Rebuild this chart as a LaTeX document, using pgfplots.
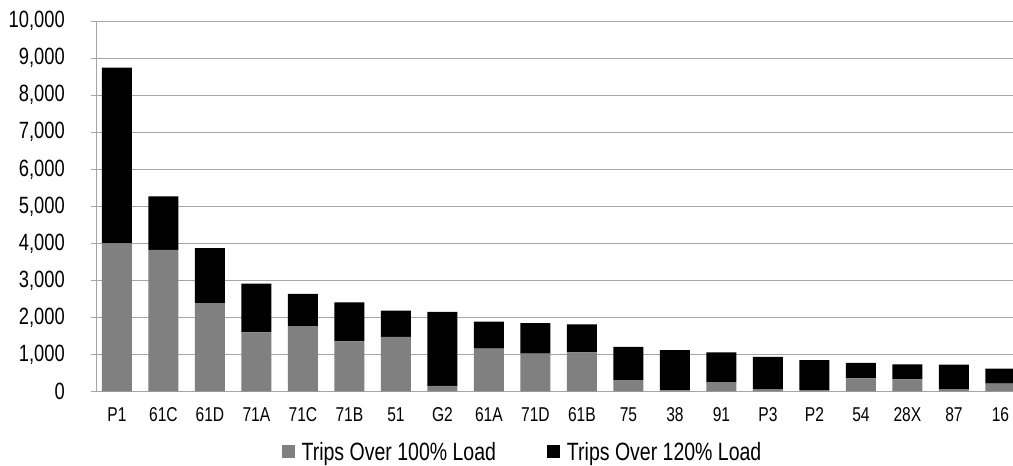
\documentclass[border=0pt]{standalone}
\usepackage{pgfplots}
\pgfplotsset{compat=1.18}
\usepackage{pgfplotstable}
\usepackage{fontspec}
\setmainfont[FakeStretch=0.78]{Liberation Sans}

\definecolor{loadgray}{RGB}{128,128,128}
\definecolor{gridgray}{RGB}{165,165,165}

% idx, route, trips over 100% load, additional trips over 120% load
\pgfplotstableread{
idx route over100 over120
0  P1  4000 4750
1  61C 3820 1450
2  61D 2380 1490
3  71A 1595 1315
4  71C 1760 870
5  71B 1350 1055
6  51  1470 710
7  G2  145  2000
8  61A 1155 730
9  71D 1020 820
10 61B 1055 755
11 75  300  900
12 38  25   1090
13 91  250  805
14 P3  60   870
15 P2  35   805
16 54  350  415
17 28X 325  405
18 87  60   660
19 16  205  405
}\loads

\begin{document}
\begin{tikzpicture}
\begin{axis}[
  at={(0bp,0bp)}, anchor=south west,
  scale only axis,
  width=917bp, height=370bp,
  ybar stacked,
  bar width=0.645,
  xmin=-0.45, xmax=19.27,
  ymin=0, ymax=10000,
  ytick={0,1000,...,10000},
  xtick={0,...,19},
  xticklabels={P1,61C,61D,71A,71C,71B,51,G2,61A,71D,61B,75,38,91,P3,P2,54,28X,87,16},
  axis x line*=bottom,
  axis y line*=left,
  axis line style={gridgray, line width=0.8bp},
  ymajorgrids,
  grid style={gridgray, line width=0.8bp},
  major tick length=5bp,
  ytick style={gridgray, line width=0.8bp},
  tick align=outside,
  xtick style={draw=none},
  /pgf/number format/assume math mode=true,
  /pgf/number format/1000 sep={,},
  scaled y ticks=false,
  yticklabel style={font=\fontsize{23.5bp}{25bp}\selectfont, anchor=east, inner sep=0pt, xshift=-26bp},
  xticklabel style={font=\fontsize{20bp}{22bp}\selectfont, anchor=north, inner sep=0pt, yshift=-11bp},
  legend style={
    at={(0.4651,-0.164)}, anchor=center,
    draw=none, fill=none,
    font=\fontsize{25bp}{27bp}\selectfont,
    legend columns=2,
    /tikz/every odd column/.append style={column sep=5bp},
    /tikz/every even column/.append style={column sep=49bp},
    inner sep=0pt,
  },
  legend image code/.code={\fill[#1] (0bp,-6.5bp) rectangle (13bp,6.5bp);},
]
\addplot[fill=loadgray, draw=none] table[x=idx, y=over100] {\loads};
\addplot[fill=black, draw=none] table[x=idx, y=over120] {\loads};
\legend{Trips Over 100\% Load, Trips Over 120\% Load}
\end{axis}
\pgfresetboundingbox
\useasboundingbox (-96bp,-74.7bp) rectangle (917bp,391.3bp);
\end{tikzpicture}
\end{document}
